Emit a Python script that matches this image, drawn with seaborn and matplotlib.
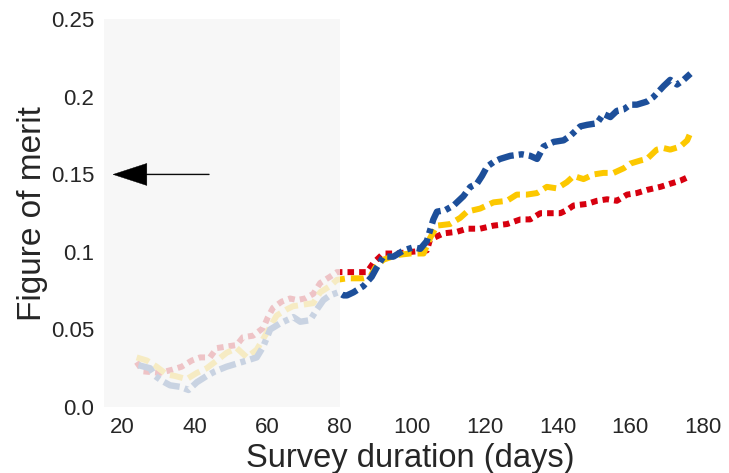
import matplotlib
matplotlib.use("Agg")
import matplotlib.pyplot as plt
import seaborn as sns
import pandas as pd

# ---------------- data ----------------
blue_x = [24.5, 27.7, 29.1, 30.9, 33.2, 36.0, 38.3, 40.6, 43.3, 45.6, 48.8, 51.6, 54.4, 57.1,
          58.9, 60.8, 63.6, 65.4, 67.2, 69.1, 71.8, 73.7, 75.5, 77.3, 79.6,
          81.0, 82.0, 83.8, 86.5, 88.8, 90.2, 92.0, 94.8, 97.6, 100.3, 102.2, 104.0, 104.9, 105.8,
          106.8, 109.1, 111.4, 114.1, 116.0, 117.8, 119.2, 120.6, 122.4, 124.2, 127.0, 130.2,
          132.5, 134.4, 136.2, 139.0, 141.7, 143.6, 146.3, 148.2, 150.9, 152.7, 154.6, 156.4,
          158.3, 160.1, 161.9, 164.7, 166.5, 169.3, 171.1, 173.0, 174.8, 176.7]
blue_y = [0.027, 0.025, 0.020, 0.017, 0.014, 0.013, 0.011, 0.016, 0.020, 0.023, 0.026, 0.028, 0.030, 0.032,
          0.039, 0.050, 0.054, 0.056, 0.058, 0.055, 0.056, 0.063, 0.069, 0.072, 0.074,
          0.072, 0.072, 0.074, 0.078, 0.084, 0.090, 0.097, 0.097, 0.101, 0.103, 0.102, 0.107, 0.114, 0.121,
          0.126, 0.127, 0.130, 0.136, 0.142, 0.144, 0.149, 0.155, 0.158, 0.160, 0.162, 0.163,
          0.162, 0.160, 0.168, 0.171, 0.172, 0.175, 0.181, 0.182, 0.183, 0.189, 0.187, 0.191,
          0.192, 0.195, 0.195, 0.197, 0.200, 0.207, 0.211, 0.208, 0.211, 0.215]

yellow_x = [24.0, 26.8, 29.5, 32.3, 34.6, 37.8, 40.6, 43.3, 46.1, 48.8, 51.6, 54.4, 57.1, 59.9,
            62.6, 65.4, 67.1, 69.9, 72.7, 74.6, 77.3, 79.2,
            82.0, 86.5, 88.4, 89.8, 92.0, 95.7, 99.4, 103.1, 104.9, 106.8, 110.4, 113.2, 115.1,
            118.7, 122.4, 126.1, 128.8, 131.6, 134.4, 137.1, 139.9, 142.6, 144.5, 147.2, 150.0,
            152.7, 155.5, 158.3, 160.1, 162.9, 164.7, 167.4, 169.3, 171.1, 173.9, 175.8, 176.7]
yellow_y = [0.032, 0.030, 0.026, 0.021, 0.020, 0.018, 0.022, 0.025, 0.030, 0.035, 0.038, 0.032, 0.037, 0.048,
            0.059, 0.063, 0.065, 0.066, 0.067, 0.074, 0.078, 0.082,
            0.083, 0.083, 0.084, 0.090, 0.095, 0.098, 0.099, 0.099, 0.109, 0.117, 0.118, 0.122, 0.126,
            0.128, 0.132, 0.133, 0.137, 0.137, 0.138, 0.142, 0.141, 0.145, 0.149, 0.147, 0.150,
            0.151, 0.151, 0.154, 0.157, 0.159, 0.160, 0.166, 0.167, 0.166, 0.168, 0.172, 0.177]

red_x = [24.0, 25.8, 30.4, 33.7, 36.4, 39.2, 41.5, 44.2, 46.1, 48.8, 51.6, 53.3, 56.1, 58.9,
         60.2, 61.6, 64.0, 66.3, 68.2, 70.4, 72.7, 74.6, 77.3, 79.2,
         80.1, 84.7, 87.5, 89.3, 92.0, 95.7, 99.4, 104.0, 104.9, 108.6, 112.3, 115.1, 118.7,
         122.4, 126.1, 129.8, 132.5, 135.3, 138.0, 140.8, 142.6, 144.5, 148.2, 150.9, 153.7,
         156.4, 159.2, 161.9, 164.7, 168.4, 171.1, 173.9, 176.7]
red_y = [0.029, 0.023, 0.022, 0.024, 0.026, 0.030, 0.032, 0.032, 0.038, 0.039, 0.040, 0.045, 0.046, 0.051,
         0.058, 0.064, 0.068, 0.070, 0.069, 0.070, 0.073, 0.080, 0.084, 0.087,
         0.087, 0.087, 0.087, 0.093, 0.099, 0.099, 0.100, 0.101, 0.108, 0.112, 0.113, 0.115, 0.115,
         0.117, 0.118, 0.121, 0.121, 0.125, 0.125, 0.125, 0.127, 0.130, 0.131, 0.133, 0.134,
         0.133, 0.137, 0.138, 0.140, 0.142, 0.144, 0.146, 0.149]

x_ticks = [20, 40, 60, 80, 100, 120, 140, 160, 180]
x_tick_labels = ["20", "40", "60", "80", "100", "120", "140", "160", "180"]
y_ticks = [0.0, 0.05, 0.1, 0.15, 0.2, 0.25]
y_tick_labels = ["0.0", "0.05", "0.1", "0.15", "0.2", "0.25"]

x_label = "Survey duration (days)"
y_label = "Figure of merit"

# ---------------- plot ----------------
sns.set_theme(style="white")
plt.rcParams["font.family"] = ["Liberation Sans", "DejaVu Sans"]

fig, ax = plt.subplots(figsize=(7.29, 4.73), dpi=100)
fig.subplots_adjust(left=0.1427, right=0.9835, top=0.959, bottom=0.1395)

df_red = pd.DataFrame({"x": red_x, "y": red_y})
df_yel = pd.DataFrame({"x": yellow_x, "y": yellow_y})
df_blu = pd.DataFrame({"x": blue_x, "y": blue_y})

l_red = sns.lineplot(data=df_red, x="x", y="y", ax=ax, color="#d7000f",
                     linewidth=4.3, estimator=None, zorder=2).lines[-1]
l_red.set_dashes((1.1, 0.85))
l_yel = sns.lineplot(data=df_yel, x="x", y="y", ax=ax, color="#fcc800",
                     linewidth=4.3, estimator=None, zorder=2).lines[-1]
l_yel.set_dashes((2.2, 1.0))
l_blu = sns.lineplot(data=df_blu, x="x", y="y", ax=ax, color="#1d4f9a",
                     linewidth=4.6, estimator=None, zorder=2).lines[-1]
l_blu.set_dashes((2.6, 0.8, 0.8, 0.8))
for ln in (l_red, l_yel, l_blu):
    ln.set_dash_capstyle("butt")
    ln.set_solid_joinstyle("round")

# faded "excluded" region
ax.axvspan(15, 80, color="#f5f5f5", alpha=0.8, zorder=3, linewidth=0)

# arrow pointing to the y-axis
ax.arrow(44, 0.15, -26.5, 0, width=0.0006, head_width=0.0142, head_length=9.3,
         length_includes_head=True, fc="black", ec="black", linewidth=0.3, zorder=4)

ax.set_xlim(15, 184)
ax.set_ylim(0, 0.25)
ax.set_xticks(x_ticks)
ax.set_xticklabels(x_tick_labels)
ax.set_yticks(y_ticks)
ax.set_yticklabels(y_tick_labels)
ax.tick_params(axis="both", labelsize=16, colors="#262626", length=0, pad=7)
ax.set_xlabel(x_label, fontsize=23.5, color="#262626", labelpad=3.5)
ax.set_ylabel(y_label, fontsize=24, color="#262626", labelpad=2)
sns.despine(ax=ax, left=True, bottom=True)
ax.grid(False)

fig.savefig("out.png", dpi=100)
